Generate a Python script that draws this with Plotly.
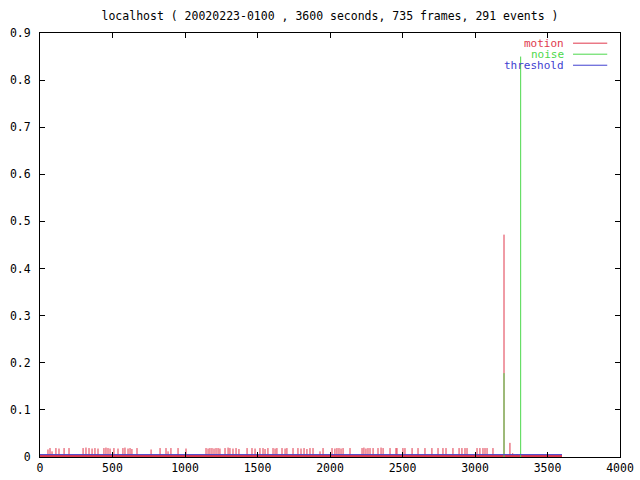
import plotly.graph_objects as go

# ---- data ----
title_text = "localhost ( 20020223-0100 , 3600 seconds, 735 frames, 291 events )"

motion_t = [55, 69, 83, 110, 131, 166, 200, 297, 317, 338, 359, 379, 400, 441, 455, 469,
            483, 510, 538, 572, 586, 607, 621, 634, 669, 766, 828, 869, 883, 903, 952,
            1007, 1145, 1159, 1172, 1186, 1200, 1214, 1228, 1241, 1276, 1297, 1310, 1331,
            1352, 1372, 1428, 1462, 1483, 1517, 1538, 1552, 1572, 1607, 1621, 1634, 1669,
            1690, 1703, 1745, 1779, 1800, 1821, 1841, 1862, 1883, 1931, 1952, 2014, 2034,
            2048, 2062, 2076, 2090, 2138, 2221, 2234, 2248, 2262, 2276, 2297, 2331, 2352,
            2366, 2414, 2455, 2462, 2503, 2517, 2566, 2607, 2655, 2703, 2745, 2779, 2800,
            2848, 2890, 2910, 2931, 2945, 3014, 3034, 3055, 3069, 3083, 3124, 3200, 3241,
            3260, 3290]
motion_v = [0.016, 0.019, 0.012, 0.019, 0.018, 0.019, 0.019, 0.019, 0.020, 0.019, 0.018,
            0.019, 0.018, 0.019, 0.020, 0.019, 0.018, 0.019, 0.018, 0.019, 0.020, 0.018,
            0.019, 0.017, 0.019, 0.016, 0.019, 0.019, 0.012, 0.019, 0.019, 0.018, 0.019,
            0.018, 0.019, 0.019, 0.018, 0.019, 0.019, 0.018, 0.019, 0.020, 0.019, 0.018,
            0.019, 0.017, 0.019, 0.019, 0.018, 0.019, 0.019, 0.017, 0.019, 0.019, 0.018,
            0.019, 0.019, 0.018, 0.019, 0.019, 0.019, 0.018, 0.019, 0.017, 0.019, 0.019,
            0.012, 0.019, 0.019, 0.018, 0.019, 0.019, 0.018, 0.019, 0.019, 0.019, 0.020,
            0.018, 0.019, 0.019, 0.019, 0.019, 0.020, 0.019, 0.019, 0.019, 0.019, 0.019,
            0.019, 0.019, 0.019, 0.019, 0.019, 0.019, 0.019, 0.019, 0.019, 0.019, 0.019,
            0.019, 0.019, 0.019, 0.019, 0.019, 0.019, 0.019, 0.019, 0.472, 0.030, 0.008,
            0.006]
motion_floor_t = [0, 3600]
motion_floor_v = [0.004, 0.004]

noise_t = [3200, 3315]
noise_v = [0.178, 0.85]

threshold_t = [0, 3600]
threshold_v = [0.005, 0.005]

x_ticks = [0, 500, 1000, 1500, 2000, 2500, 3000, 3500, 4000]
y_ticks = [0, 0.1, 0.2, 0.3, 0.4, 0.5, 0.6, 0.7, 0.8, 0.9]
y_tick_labels = ["0", "0.1", "0.2", "0.3", "0.4", "0.5", "0.6", "0.7", "0.8", "0.9"]

series_names = ["motion", "noise", "threshold"]
series_colors = ["#e0384c", "#4cd84c", "#4040d0"]

FONT = "DejaVu Sans Mono"
FSIZE = 11.5
FIG_W, FIG_H = 640, 480


def impulses(ts, vs):
    xs, ys = [], []
    for t, v in zip(ts, vs):
        xs += [t, t, None]
        ys += [0, v, None]
    return xs, ys


fig = go.Figure()

fig.add_trace(go.Scatter(x=motion_floor_t, y=motion_floor_v, mode="lines",
                         line=dict(color=series_colors[0], width=1),
                         fill="tozeroy", fillcolor=series_colors[0], hoverinfo="skip"))
mx, my = impulses(motion_t, motion_v)
fig.add_trace(go.Scatter(x=mx, y=my, mode="lines", name=series_names[0],
                         line=dict(color=series_colors[0], width=1)))
nx, ny = impulses(noise_t, noise_v)
fig.add_trace(go.Scatter(x=nx, y=ny, mode="lines", name=series_names[1],
                         line=dict(color=series_colors[1], width=1)))
fig.add_trace(go.Scatter(x=threshold_t, y=threshold_v, mode="lines", name=series_names[2],
                         line=dict(color=series_colors[2], width=1)))

# manual gnuplot-style legend (text left of sample line)
legend_y = [0.976, 0.950, 0.924]
for name, col, yy in zip(series_names, series_colors, legend_y):
    fig.add_annotation(x=0.905, y=yy, xref="paper", yref="paper", text=name,
                       showarrow=False, xanchor="right", yanchor="middle",
                       height=10, borderpad=0,
                       font=dict(family=FONT, size=11, color=col))
    fig.add_shape(type="line", xref="paper", yref="paper", x0=0.919, x1=0.978,
                  y0=yy, y1=yy, line=dict(color=col, width=1))

fig.update_layout(
    width=FIG_W, height=FIG_H,
    margin=dict(l=40, r=20, t=33, b=23),
    paper_bgcolor="white", plot_bgcolor="white",
    showlegend=False,
    font=dict(family=FONT, size=FSIZE, color="black"),
    title=dict(text=title_text, x=0.5, xref="paper", y=1 - 16 / FIG_H, yref="container",
               xanchor="center", yanchor="middle", font=dict(family=FONT, size=FSIZE)),
)
fig.update_xaxes(range=[0, 4000], tickvals=x_ticks, ticks="inside", ticklen=5,
                 showline=True, linecolor="black", linewidth=1, mirror="ticks",
                 showgrid=False, zeroline=False, tickcolor="black", automargin=False,
                 ticklabelstandoff=0)
fig.update_yaxes(range=[0, 0.9], tickvals=y_ticks, ticktext=y_tick_labels,
                 ticks="inside", ticklen=5, showline=True, linecolor="black",
                 linewidth=1, mirror="ticks", showgrid=False, zeroline=False,
                 tickcolor="black", ticklabelstandoff=6, automargin=False)

# remove the page's default body margin so the 640x480 figure fills the window exactly
fig.write_html("out.html",
               config={"displayModeBar": False},
               post_script="document.body.style.margin='0px';document.body.style.overflow='hidden';")
